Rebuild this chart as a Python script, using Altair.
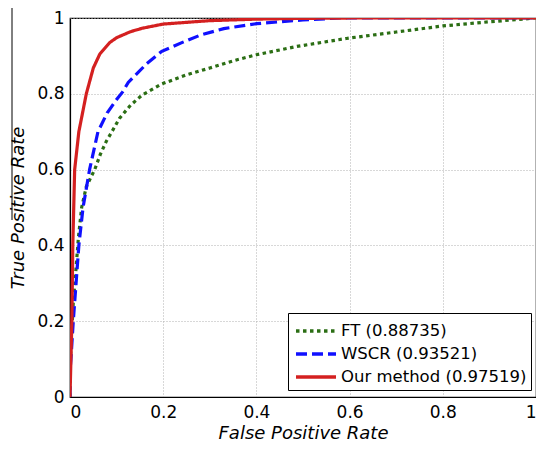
import altair as alt
import pandas as pd

series_names = ["FT (0.88735)", "WSCR (0.93521)", "Our method (0.97519)"]

ft_fpr = [0.0, 0.0, 0.003, 0.007, 0.013, 0.018, 0.025, 0.035, 0.053, 0.065, 0.078, 0.09, 0.106, 0.13, 0.155, 0.197, 0.25, 0.3, 0.353, 0.4, 0.487, 0.593, 0.7, 0.8, 0.9, 1.0]
ft_tpr = [0.0, 0.08, 0.15, 0.25, 0.34, 0.42, 0.5, 0.555, 0.6, 0.64, 0.675, 0.70, 0.735, 0.77, 0.797, 0.826, 0.85, 0.868, 0.888, 0.903, 0.925, 0.946, 0.963, 0.979, 0.99, 1.0]

wscr_fpr = [0.0, 0.0, 0.002, 0.007, 0.013, 0.019, 0.028, 0.042, 0.06, 0.08, 0.1, 0.113, 0.125, 0.141, 0.165, 0.197, 0.24, 0.28, 0.33, 0.4, 0.5, 0.58, 1.0]
wscr_tpr = [0.0, 0.07, 0.1, 0.2, 0.3, 0.4, 0.5, 0.6, 0.7, 0.75, 0.785, 0.805, 0.83, 0.85, 0.88, 0.912, 0.935, 0.955, 0.972, 0.985, 0.995, 1.0, 1.0]

our_fpr = [0.0, 0.002, 0.004, 0.006, 0.008, 0.010, 0.019, 0.035, 0.05, 0.064, 0.085, 0.1, 0.13, 0.155, 0.2, 0.3, 0.4, 0.5, 0.6, 1.0]
our_tpr = [0.0, 0.1, 0.2, 0.4, 0.5, 0.6, 0.7, 0.8, 0.868, 0.905, 0.935, 0.948, 0.964, 0.973, 0.984, 0.993, 0.997, 0.999, 1.0, 1.0]

tick_values = [0, 0.2, 0.4, 0.6, 0.8, 1]

rows = []
for name, xs, ys in [(series_names[0], ft_fpr, ft_tpr),
                     (series_names[1], wscr_fpr, wscr_tpr),
                     (series_names[2], our_fpr, our_tpr)]:
    for i, (x, y) in enumerate(zip(xs, ys)):
        rows.append({"series": name, "fpr": x, "tpr": y, "order": i})
df = pd.DataFrame(rows)

colors = ["#2b6e14", "#1010ff", "#d42020"]
dashes = [[3.5, 3.5], [11, 5], [1, 0]]

label_expr = "datum.value == 0 ? '0' : datum.value == 1 ? '1' : format(datum.value, '.1f')"

x_enc = alt.X("fpr:Q", scale=alt.Scale(domain=[0, 1], nice=False),
              axis=alt.Axis(values=tick_values, title="False Positive Rate", labelExpr=label_expr))
y_enc = alt.Y("tpr:Q", scale=alt.Scale(domain=[0, 1], nice=False),
              axis=alt.Axis(values=tick_values, title="True Positive Rate", labelExpr=label_expr))

lines = alt.Chart(df).mark_line(strokeWidth=3.2, strokeCap="butt", clip=True).encode(
    x=x_enc,
    y=y_enc,
    order="order:Q",
    color=alt.Color("series:N", sort=series_names,
                    scale=alt.Scale(domain=series_names, range=colors),
                    legend=alt.Legend(title=None, orient="none", legendX=218, legendY=295,
                                      symbolType="M-1.667,0H1.667", symbolSize=576, symbolStrokeWidth=3.5,
                                      symbolOffset=10, labelLimit=400,
                                      labelFontSize=16.5, labelFont="DejaVu Sans", labelColor="black",
                                      fillColor="white", strokeColor="black", padding=4,
                                      rowPadding=0, labelOffset=11)),
    strokeDash=alt.StrokeDash("series:N", sort=series_names,
                              scale=alt.Scale(domain=series_names, range=dashes)),
)

artifact = alt.Chart(pd.DataFrame({"a": [0]})).mark_rule(color="black", strokeWidth=1).encode(
    x=alt.value(-58), y=alt.value(-12), y2=alt.value(202)
)

chart = alt.layer(lines, artifact).properties(
    width=466, height=379,
    autosize=alt.AutoSizeParams(type="none"),
    padding={"left": 62, "top": 10, "right": 0, "bottom": 48},
).configure_view(stroke="black", strokeWidth=1.2).configure_axis(
    domainColor="black", domainWidth=1.2, tickColor="black", tickSize=0,
    gridColor="#b0b0b0", gridDash=[1, 2], gridWidth=1,
    labelFont="DejaVu Sans", labelFontSize=17, labelColor="black",
    titleFont="DejaVu Sans", titleFontSize=18, titleFontStyle="italic",
    titleFontWeight="normal", titleColor="black", labelPadding=6,
).configure_axisX(titlePadding=4, labelPadding=7).configure_axisY(titlePadding=9)

chart.save("out.html", embed_options={"renderer": "svg", "actions": False})
